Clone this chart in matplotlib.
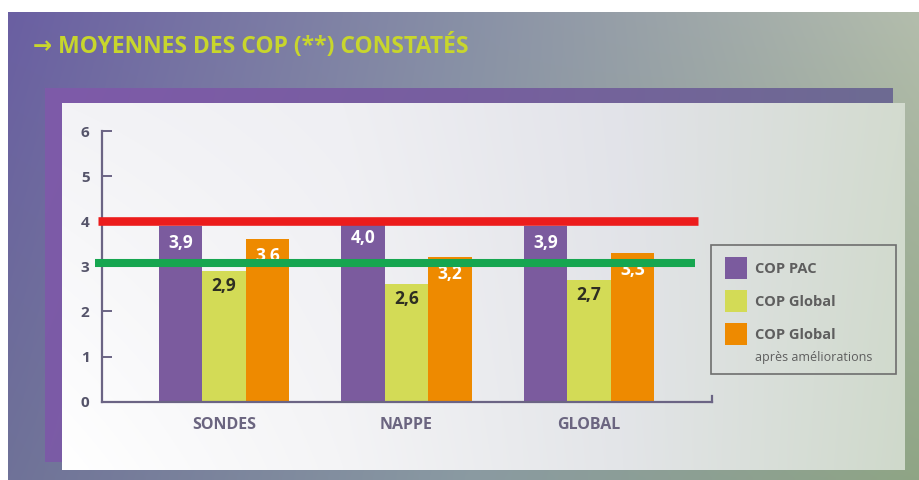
import numpy as np
import matplotlib
matplotlib.use("Agg")
from matplotlib import pyplot as plt
from matplotlib.colors import to_rgb
from matplotlib.patches import Rectangle

# valeurs moyennes de COP par type de captage
categories = ["SONDES", "NAPPE", "GLOBAL"]
cop_pac = [3.9, 4.0, 3.9]
cop_global = [2.9, 2.6, 2.7]
cop_ameliore = [3.6, 3.2, 3.3]
series = [cop_pac, cop_global, cop_ameliore]
series_names = ["COP PAC", "COP Global", "COP Global"]
series_notes = ["", "", "après améliorations"]
series_colors = ["#7b5b9e", "#d3db56", "#ee8a00"]
label_colors = ["white", "#2e2e22", "white"]
seuil_haut = 4.0
seuil_bas = 3.07
yticks = [0, 1, 2, 3, 4, 5, 6]
titre = "\u2192 MOYENNES DES COP (**) CONSTATÉS"

W, H = 920, 480
FONT = ["Open Sans", "DejaVu Sans"]


def gradient(ax, x0, x1, y0, y1, top, bottom, z):
    """Remplit un rectangle (pixels, y vers le bas) avec un degrade bilineaire."""
    top = np.array([to_rgb(c) for c in top])
    bottom = np.array([to_rgb(c) for c in bottom])
    xs = np.linspace(0, 1, 300)
    row_t = np.stack([np.interp(xs, np.linspace(0, 1, len(top)), top[:, k]) for k in range(3)], -1)
    row_b = np.stack([np.interp(xs, np.linspace(0, 1, len(bottom)), bottom[:, k]) for k in range(3)], -1)
    t = np.linspace(0, 1, 100)[:, None, None]
    img = row_t[None] * (1 - t) + row_b[None] * t
    ax.imshow(img, extent=(x0, x1, y1, y0), aspect="auto", interpolation="bilinear", zorder=z)


fig = plt.figure(figsize=(W / 100, H / 100), dpi=100)
fig.patch.set_facecolor("white")

bg = fig.add_axes([0, 0, 1, 1])
gradient(bg, 8, W, 12, H,
         ["#6a5fa2", "#8890a6", "#b3bdac"],
         ["#6f7298", "#8a9aa2", "#8fa585"], 0)
# ombre violette puis panneau clair
gradient(bg, 45, 893, 88, 462, ["#7e5aa9", "#775f9f", "#6d6b92"], ["#7b5ba6", "#735f9c", "#6d6b92"], 1)
gradient(bg, 62, 905, 103, 470,
         ["#f3f3f6", "#efeff3", "#e2e3e9", "#d3dbcf"],
         ["#ffffff", "#f4f4f6", "#e3e5e8", "#cfd9cb"], 2)
bg.set_xlim(0, W)
bg.set_ylim(H, 0)
bg.axis("off")

bg.text(33, 47, titre, color="#c8d62c", fontsize=16.5, fontweight="bold",
        family=FONT, va="center", ha="left", zorder=5)

# legende
bg.add_patch(Rectangle((711, 245), 185, 129, fill=False, edgecolor="#6e6e6e", lw=1.2, zorder=5))
for i, (name, note, col) in enumerate(zip(series_names, series_notes, series_colors)):
    y = 257 + 33 * i
    bg.add_patch(Rectangle((725, y), 22, 22, facecolor=col, edgecolor="none", zorder=5))
    bg.text(755, y + 12, name, color="#5e5e5e", fontsize=10.5, fontweight="bold",
            family=FONT, va="center", ha="left", zorder=5)
    if note:
        bg.text(755, y + 34, note, color="#5e5e5e", fontsize=9,
                family=FONT, va="center", ha="left", zorder=5)

# graphique
y0_px, y6_px = 401.7, 131
ax = fig.add_axes([102 / W, (H - y0_px) / H, 610 / W, (y0_px - y6_px) / H])
ax.set_facecolor("none")
x = np.arange(len(categories))
w = 0.2385
for i, (vals, col, lc) in enumerate(zip(series, series_colors, label_colors)):
    pos = x + (i - 1) * w
    ax.bar(pos, vals, w, color=col, zorder=2)
    off = 15 if i == 1 else 17
    for px, v in zip(pos, vals):
        ax.annotate(f"{v:.1f}".replace(".", ","), (px, v), xytext=(0, -off),
                    textcoords="offset pixels", ha="center", va="center",
                    color=lc, fontsize=12.5, fontweight="bold", family=FONT, zorder=3)

ax.hlines(seuil_haut, -0.692, 2.599, color="#ec1c1c", lw=6.2, zorder=4, clip_on=False)
ax.hlines(seuil_bas, -0.707, 2.582, color="#16a650", lw=5.8, zorder=4, clip_on=False)

ax.set_xlim(-0.669, 2.675)
ax.set_ylim(0, 6)
ax.set_yticks(yticks)
ax.set_xticks(x)
ax.set_xticklabels(categories)
for s in ["top", "right"]:
    ax.spines[s].set_visible(False)
for s in ["left", "bottom"]:
    ax.spines[s].set_color("#6b6484")
    ax.spines[s].set_linewidth(1.6)
ax.tick_params(axis="y", direction="in", length=7, width=1.4, color="#6b6484",
               pad=9, labelcolor="#55546a", labelsize=11)
ax.tick_params(axis="x", length=0, pad=11, labelcolor="#6b6580", labelsize=11.5)
for lab in ax.get_yticklabels() + ax.get_xticklabels():
    lab.set_fontweight("bold")
    lab.set_family(FONT)
ax.plot([1, 1], [0, 0.02], transform=ax.transAxes, color="#6b6484", lw=1.6, clip_on=False)

fig.savefig("out.png", dpi=100, facecolor=fig.get_facecolor())
